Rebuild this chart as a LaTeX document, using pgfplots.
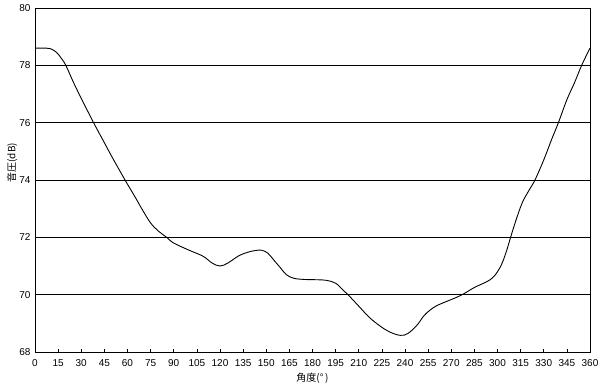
\documentclass[border=0pt]{standalone}
\usepackage{pgfplots}
\pgfplotsset{compat=1.18}
\usepackage{fontspec}
\setmainfont{Liberation Sans}
\newfontfamily\cjk{Noto Sans CJK JP}
\begin{document}
\begin{tikzpicture}
\begin{axis}[
  scale only axis,
  width=555pt, height=344pt,
  xmin=0, xmax=360, ymin=68, ymax=80,
  xtick={0,15,...,360},
  ytick={68,70,...,80},
  ymajorgrids,
  grid style={black, line width=0.7pt},
  axis line style={black, line width=0.8pt},
  tick style={black, line width=0.6pt},
  xtick pos=bottom, ytick pos=left,
  tick align=inside,
  major tick length=3pt,
  ytick style={draw=none},
  tick label style={font=\fontsize{10}{12}\selectfont},
  /pgf/number format/assume math mode=true,
  xticklabel style={yshift=-4pt},
  yticklabel style={xshift=-1pt},
  xlabel={\cjk 角度(°\,)},
  ylabel={\cjk 音圧(dB)},
  label style={font=\fontsize{10}{12}\selectfont},
  xlabel style={at={(0.5,-0.075)}, anchor=center},
  ylabel style={at={(-0.041,0.55)}, anchor=center},
]
\addplot[black, line width=0.9pt, smooth, tension=0.6] coordinates {
(0,78.6) (5,78.6) (10,78.58) (14,78.45) (17,78.25) (20,78.0) (25,77.4)
(30,76.85) (38,76.0) (45,75.3) (50,74.8) (58.4,74.0) (65,73.4) (70,72.93)
(75,72.5) (80,72.22) (85.4,72.0) (90,71.8) (100,71.55) (109,71.34) (115,71.1)
(120,71.0) (125,71.1) (132,71.35) (138,71.48) (143,71.54) (147,71.55) (151,71.45)
(155,71.2) (159,70.95) (163,70.7) (168,70.57) (175,70.53) (183,70.52) (189,70.5)
(195,70.4) (200,70.15) (203,70.0) (210,69.6) (217,69.2) (224,68.9)
(230,68.7) (237,68.58) (242,68.65) (248,68.95) (252,69.25) (256,69.45)
(260,69.6) (265,69.72) (276,69.97) (285,70.25) (293,70.45) (297,70.6) (300,70.8)
(303,71.1) (306,71.55) (308.5,72.0) (312,72.6) (316,73.2) (320,73.6)
(324.3,74.0) (330,74.7) (335,75.4) (339.5,76.0) (345,76.8) (350,77.4)
(354.6,78.0) (360,78.6)
};
\end{axis}
\pgfresetboundingbox
\path (-35pt,-33pt) rectangle (565pt,352pt);
\end{tikzpicture}
\end{document}
